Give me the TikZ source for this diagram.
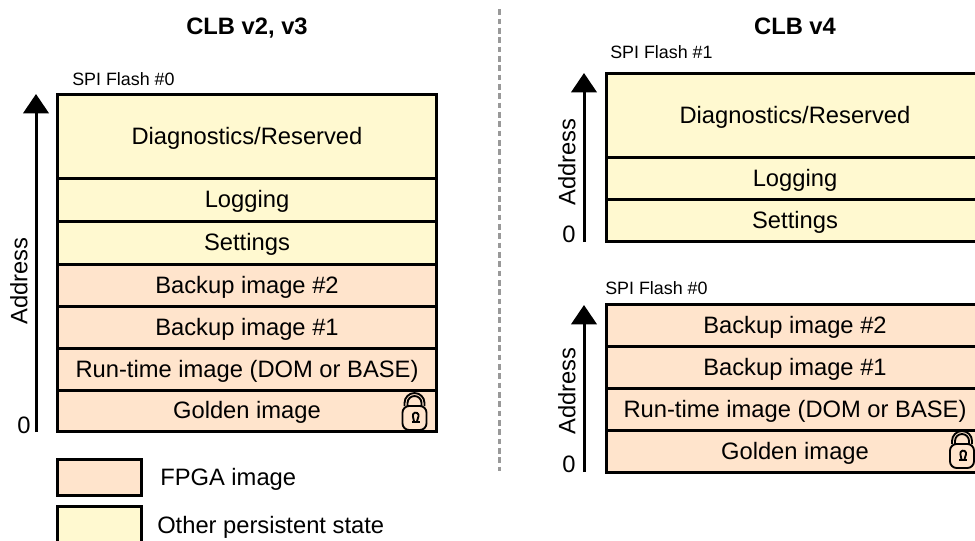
\documentclass[tikz,border=0pt]{standalone}
\usepackage{fontspec}
\setmainfont{Liberation Sans}
\usetikzlibrary{arrows.meta}
\definecolor{fpga}{RGB}{255,228,204}
\definecolor{other}{RGB}{255,249,208}
\tikzset{
  x=0.75pt,y=-0.75pt,
  memo/.style={draw=black,line width=2.25pt,rectangle,inner sep=0pt,text height=12.5pt,text depth=0pt,font=\fontsize{17.8}{20}\selectfont},
  fpgabox/.style={memo,fill=fpga},
  otherbox/.style={memo,fill=other},
  addr/.style={line width=2.25pt,-{Triangle[length=14.5pt,width=19pt]}},
  lbl/.style={font=\fontsize{17.8}{20}\selectfont,inner sep=0pt},
  small/.style={font=\fontsize{13.4}{15}\selectfont,inner sep=0pt},
  head/.style={font=\bfseries\fontsize{17.8}{20}\selectfont,inner sep=0pt},
  lockline/.style={line width=1.4pt,black}
}
\newcommand{\padlock}[2]{%
  \begin{scope}[shift={(#1,#2)}]
    \draw[lockline] (-10,-9) -- (-10,-12) arc[start angle=180,end angle=360,radius=10] -- (10,-9);
    \draw[lockline] (-7,-9) -- (-7,-12) arc[start angle=180,end angle=360,radius=7] -- (7,-9);
    \draw[lockline,rounded corners=5pt] (-12,-9) rectangle (12,15);
    \fill[black] (-3,6) rectangle (5,7.5);
    \draw[line width=1.4pt] (-0.6,6) -- (-1.6,1.2) arc[start angle=165,end angle=375,radius=2.9] -- (2.6,6);
  \end{scope}}
\begin{document}
\begin{tikzpicture}
\useasboundingbox (0,0) rectangle (975,540);
% left column
\node[head,anchor=base] (t1) at (247,34) {CLB v2, v3};
\node[small,anchor=base west] (s0) at (72,85) {SPI Flash \#0};
\node[otherbox,minimum width=284.5pt,minimum height=63pt] (l1) at (247,136) {Diagnostics/Reserved};
\node[otherbox,minimum width=284.5pt,minimum height=32.25pt] (l2) at (247,199.5) {Logging};
\node[otherbox,minimum width=284.5pt,minimum height=32.25pt] (l3) at (247,242.5) {Settings};
\node[fpgabox,minimum width=284.5pt,minimum height=31.5pt] (l4) at (247,285) {Backup image \#2};
\node[fpgabox,minimum width=284.5pt,minimum height=31.5pt] (l5) at (247,327) {Backup image \#1};
\node[fpgabox,minimum width=284.5pt,minimum height=31.5pt] (l6) at (247,369) {Run-time image (DOM or BASE)};
\node[fpgabox,minimum width=284.5pt,minimum height=30.75pt] (l7) at (247,410.5) {Golden image};
\padlock{414.5}{415}
\coordinate (la0) at (36,432);
\coordinate (la1) at (36,94);
\draw[addr] (la0) -- (la1);
\node[lbl,rotate=90] (la) at (19,281) {Address};
\node[lbl] (lz) at (24,425) {0};
% legend
\node[fpgabox,minimum width=63pt,minimum height=27pt] (k1) at (99,477) {};
\node[otherbox,minimum width=63pt,minimum height=27pt] (k2) at (99,524) {};
\node[lbl,anchor=base west] (k1t) at (160,485) {FPGA image};
\node[lbl,anchor=base west] (k2t) at (157,533) {Other persistent state};
% divider
\coordinate (d0) at (499.5,9.3);
\coordinate (d1) at (499.5,471);
\draw[line width=2.25pt,color=black!40,dash pattern=on 4.2pt off 2.8pt] (d0) -- (d1);
% right column
\node[head,anchor=base] (t2) at (795,34) {CLB v4};
\node[small,anchor=base west] (s1) at (610,58) {SPI Flash \#1};
\node[otherbox,minimum width=283.5pt,minimum height=63pt] (r1) at (795,115) {Diagnostics/Reserved};
\node[otherbox,minimum width=283.5pt,minimum height=31.5pt] (r2) at (795,178) {Logging};
\node[otherbox,minimum width=283.5pt,minimum height=31.5pt] (r3) at (795,220) {Settings};
\coordinate (ra0) at (584,242);
\coordinate (ra1) at (584,73);
\draw[addr] (ra0) -- (ra1);
\node[lbl,rotate=90] (ra) at (567,162) {Address};
\node[lbl] (rz) at (569,234) {0};
\node[small,anchor=base west] (s2) at (605,294) {SPI Flash \#0};
\node[fpgabox,minimum width=283.5pt,minimum height=31.5pt] (r4) at (795,325) {Backup image \#2};
\node[fpgabox,minimum width=283.5pt,minimum height=31.5pt] (r5) at (795,367) {Backup image \#1};
\node[fpgabox,minimum width=283.5pt,minimum height=31.5pt] (r6) at (795,409) {Run-time image (DOM or BASE)};
\node[fpgabox,minimum width=283.5pt,minimum height=31.5pt] (r7) at (795,451) {Golden image};
\padlock{962}{453}
\coordinate (rb0) at (584,472);
\coordinate (rb1) at (584,305);
\draw[addr] (rb0) -- (rb1);
\node[lbl,rotate=90] (rb) at (567,391) {Address};
\node[lbl] (rbz) at (569,464) {0};
\end{tikzpicture}
\end{document}
